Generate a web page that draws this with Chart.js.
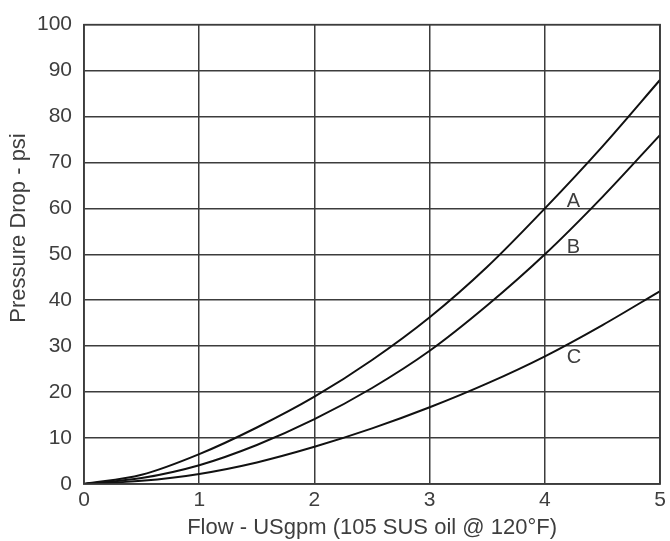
<!DOCTYPE html>
<html>
<head>
<meta charset="utf-8">
<script src="https://cdn.jsdelivr.net/npm/chart.js@4"></script>
<style>
  html, body { margin: 0; padding: 0; background: #fff; }
  #wrap { width: 670px; height: 541px; }
</style>
</head>
<body>
<div id="wrap"><canvas id="chart" width="670" height="541"></canvas></div>
<script>
// ─── Data ──────────────────────────────────────────────────
const flowValues = [0, 0.5, 1, 1.5, 2, 2.5, 3, 3.5, 4, 4.5, 5];
const curveA = [0, 2, 6.5, 12.3, 19, 27, 36.3, 47.3, 60, 73.5, 88];
const curveB = [0, 1.3, 4.1, 8.5, 14.1, 20.9, 29, 38.9, 50, 62.5, 76];
const curveC = [0, 0.7, 2.2, 4.7, 8.1, 12.1, 16.7, 21.9, 27.8, 34.6, 42];
const curveNames = ['A', 'B', 'C'];
const labelAt = [[4.19, 61.5], [4.19, 51.5], [4.19, 27.5]];
const xTitle = 'Flow - USgpm (105 SUS oil @ 120°F)';
const yTitle = 'Pressure Drop - psi';

const FONT = 'Liberation Sans, Arial, sans-serif';
const TEXT = '#3e3e3e';
const GRID = '#3c3c3c';

const toPoints = ys => flowValues.map((x, i) => ({ x: x, y: ys[i] }));

// A / B / C tags next to the curves, plus the y title (sits a bit above centre)
const annotations = {
    id: 'annotations',
    afterDatasetsDraw(chart) {
        const { ctx, scales } = chart;
        ctx.save();
        ctx.font = '20px ' + FONT;
        ctx.fillStyle = TEXT;
        ctx.textAlign = 'left';
        ctx.textBaseline = 'middle';
        curveNames.forEach((n, i) => {
            ctx.fillText(n, scales.x.getPixelForValue(labelAt[i][0]), scales.y.getPixelForValue(labelAt[i][1]));
        });
        ctx.translate(19, 228);
        ctx.rotate(-Math.PI / 2);
        ctx.font = '22px ' + FONT;
        ctx.textAlign = 'center';
        ctx.fillText(yTitle, 0, 0);
        ctx.restore();
    }
};

const line = (data) => ({
    data: toPoints(data),
    showLine: true,
    borderColor: '#111',
    borderWidth: 2,
    pointRadius: 0,
    cubicInterpolationMode: 'monotone',
    fill: false
});

new Chart(document.getElementById('chart'), {
    type: 'scatter',
    data: {
        datasets: [line(curveA), line(curveB), line(curveC)]
    },
    options: {
        responsive: false,
        animation: false,
        layout: { padding: { top: 24, right: 7, left: 0, bottom: 0 } },
        plugins: { legend: { display: false }, tooltip: { enabled: false } },
        scales: {
            x: {
                type: 'linear',
                min: 0, max: 5,
                ticks: { stepSize: 1, color: TEXT, padding: 4, font: { family: FONT, size: 21 } },
                grid: { color: GRID, lineWidth: 1.5, drawTicks: false },
                border: { color: GRID, width: 1.5 },
                title: { display: true, text: xTitle, color: TEXT,
                         font: { family: FONT, size: 22 }, padding: { top: 0, bottom: 0 } },
                afterFit(scale) { scale.height = 57; }
            },
            y: {
                min: 0, max: 100,
                ticks: { stepSize: 10, color: TEXT, padding: 12, font: { family: FONT, size: 21 } },
                grid: { color: GRID, lineWidth: 1.5, drawTicks: false },
                border: { color: GRID, width: 1.5 },
                afterFit(scale) { scale.width = 84; }
            }
        }
    },
    plugins: [annotations, {
        id: 'frame',
        afterDraw(chart) {
            const { ctx, chartArea: a } = chart;
            ctx.save();
            ctx.strokeStyle = GRID;
            ctx.lineWidth = 1.5;
            ctx.strokeRect(a.left, a.top, a.right - a.left, a.bottom - a.top);
            ctx.restore();
        }
    }]
});
</script>
</body>
</html>
